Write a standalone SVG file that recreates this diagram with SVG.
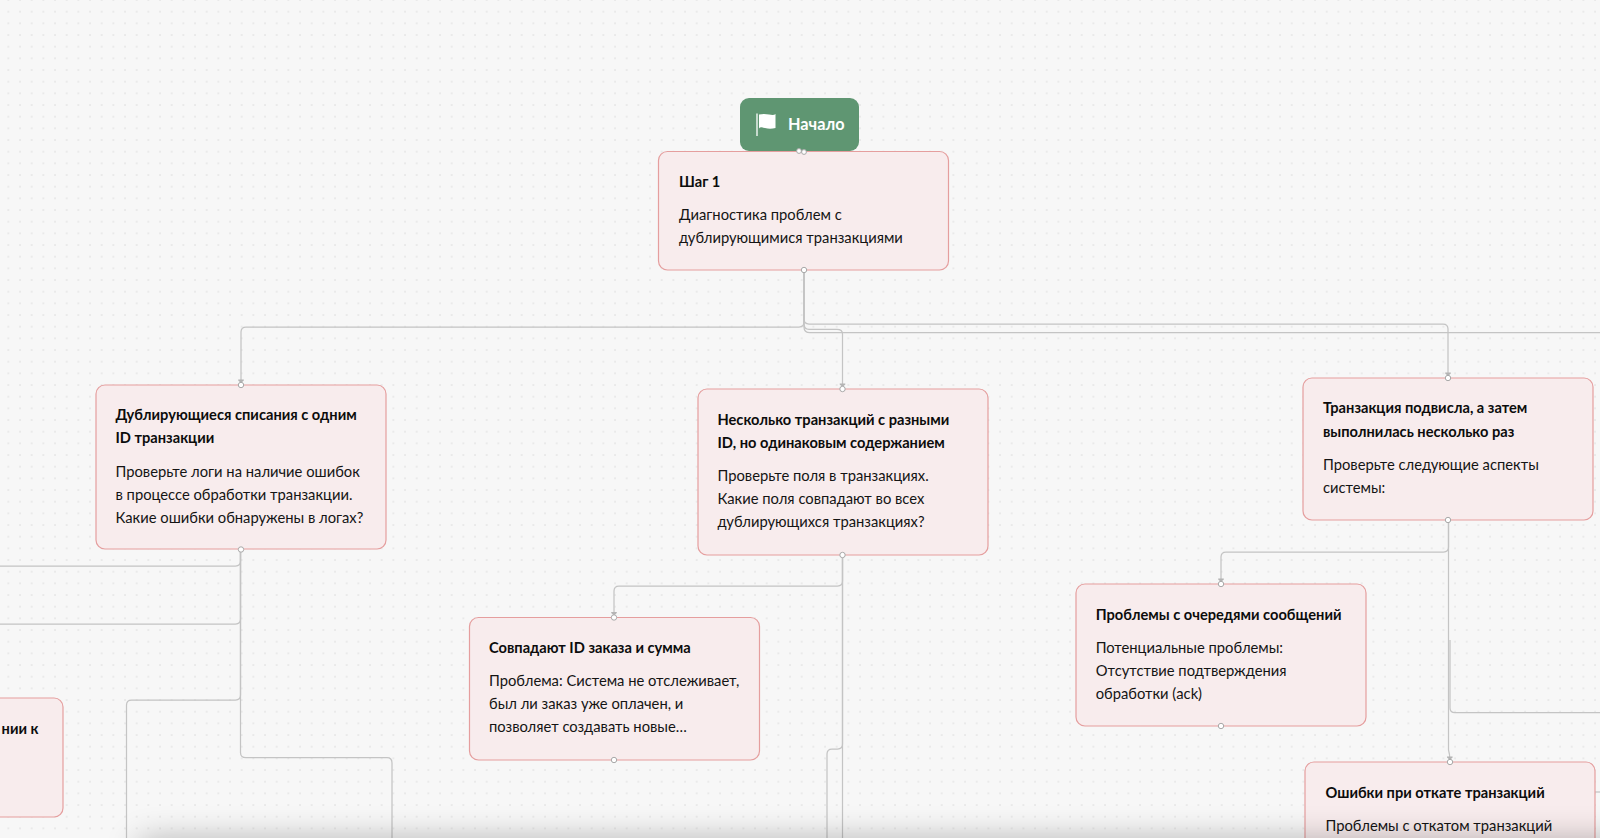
<svg xmlns="http://www.w3.org/2000/svg" width="1600" height="838" viewBox="0 0 1600 838">
<style>
.n{fill:#f8eced;stroke:#e59e9e;stroke-width:1.2}
.t{font-family:Lato,"Noto Sans",sans-serif;font-size:14.65px;font-weight:700;fill:#0c0c0c}
.b{font-family:Lato,"Noto Sans",sans-serif;font-size:14.75px;fill:#141414}
.c{fill:none;stroke:#c4c4c4;stroke-width:1.25}
.d{fill:#fff;stroke:#a9a9a9;stroke-width:1}
</style>
<defs>
<pattern id="g" x="2.5" y="5.83" width="11.667" height="11.667" patternUnits="userSpaceOnUse"><rect x="5.3" y="5.3" width="1.1" height="1.1" fill="#cccccc"/></pattern>
<filter id="s" x="-10%" y="-400%" width="120%" height="900%"><feGaussianBlur stdDeviation="17"/></filter>
</defs>
<rect width="1600" height="838" fill="#f7f7f7"/>
<rect width="1600" height="838" fill="url(#g)"/>
<g id="connectors">
<path class="c" d="M804 270V322Q804 327 799 327H246Q241 327 241 332V382.500"/>
<path class="c" d="M804 270V319Q804 324 809 324H1443Q1448 324 1448 329V375.500"/>
<path class="c" d="M804 270V324Q804 329.300 809 329.300H837Q842.500 329.300 842.500 334V386.500"/>
<path class="c" d="M804 270V327Q804 332.700 810 332.700H1600"/>
<path class="c" d="M240.500 549V561Q240.500 566 235.500 566H0"/>
<path class="c" d="M240.500 549V619Q240.500 624 235.500 624H0"/>
<path class="c" d="M240.500 549V695Q240.500 700 235.500 700H131.500Q126.500 700 126.500 705V838"/>
<path class="c" d="M240.500 549V752.500Q240.500 757.700 246 757.700H387Q392 757.700 392 763V838"/>
<path class="c" d="M842.500 555V838"/>
<path class="c" d="M842.500 555V581Q842.500 586 837.500 586H619Q614 586 614 591V615"/>
<path class="c" d="M842.500 555V744Q842.500 749 837.500 749H832Q827 749 827 754V838"/>
<path class="c" d="M1448.500 520V547Q1448.500 552 1443.500 552H1226Q1221 552 1221 557V581.500"/>
<path class="c" d="M1448.500 520V750Q1449.800 754 1449.800 759.500"/>
<path class="c" d="M1450 640V708Q1450 712.700 1455 712.700H1600"/>
<path class="c" d="M1595 792H1600"/>
<g fill="#b4b4b4">
<path id="ah1" d="M238.200 379.500H243.800V380.500L241 383L238.200 380.500Z"/>
<path id="ah2" d="M1445.200 372.500H1450.800V373.500L1448 376L1445.200 373.500Z"/>
<path id="ah3" d="M839.700 383.500H845.300V384.500L842.500 387L839.700 384.500Z"/>
<path id="ah4" d="M611.200 612H616.800V613L614 615.500L611.200 613Z"/>
<path id="ah5" d="M1218.200 578.500H1223.800V579.500L1221 582L1218.200 579.500Z"/>
<path id="ah6" d="M1447 756.500H1452.600V757.500L1449.800 760L1447 757.500Z"/>
</g>
</g>
<g id="node-step1">
<rect class="n" x="658.500" y="151.500" width="290" height="118.500" rx="9"/>
<text class="t" x="679" y="186.700">Шаг 1</text>
<text class="b" x="679" y="219.700">Диагностика проблем с</text>
<text class="b" x="679" y="243">дублирующимися транзакциями</text>
<circle class="d" cx="804" cy="270" r="2.700"/>
</g>
<g id="node-start">
<rect x="740" y="98" width="119" height="53" rx="9" fill="#5f9672"/>
<path d="M757 113.500V136" fill="none" stroke="#fff" stroke-width="1.300"/>
<path d="M759 114.500Q764 113.500 769 114.500T775.500 114V128Q770 129.500 765 128T759 128.500Z" fill="#fff"/>
<text x="788" y="130" font-family="Lato,'Noto Sans',sans-serif" font-size="16.300" font-weight="700" fill="#fff">Начало</text>
<circle class="d" cx="804" cy="152" r="2.400"/>
<circle class="d" cx="799" cy="151" r="2.400"/>
</g>
<g id="node-left">
<rect class="n" x="96" y="385" width="290" height="164" rx="9"/>
<text class="t" x="115.500" y="420">Дублирующиеся списания с одним</text>
<text class="t" x="115.500" y="443">ID транзакции</text>
<text class="b" x="115.500" y="476.500">Проверьте логи на наличие ошибок</text>
<text class="b" x="115.500" y="499.500">в процессе обработки транзакции.</text>
<text class="b" x="115.500" y="522.500">Какие ошибки обнаружены в логах?</text>
<circle class="d" cx="241" cy="385" r="2.700"/>
<circle class="d" cx="241" cy="549.500" r="2.700"/>
</g>
<g id="node-middle">
<rect class="n" x="698" y="389" width="290" height="166" rx="9"/>
<text class="t" x="717.500" y="424.700">Несколько транзакций с разными</text>
<text class="t" x="717.500" y="447.500">ID, но одинаковым содержанием</text>
<text class="b" x="717.500" y="480.500">Проверьте поля в транзакциях.</text>
<text class="b" x="717.500" y="503.500">Какие поля совпадают во всех</text>
<text class="b" x="717.500" y="526.500">дублирующихся транзакциях?</text>
<circle class="d" cx="842.500" cy="389" r="2.700"/>
<circle class="d" cx="842.500" cy="555" r="2.700"/>
</g>
<g id="node-right">
<rect class="n" x="1303" y="378" width="290" height="142" rx="9"/>
<text class="t" x="1323" y="413">Транзакция подвисла, а затем</text>
<text class="t" x="1323" y="436.500">выполнилась несколько раз</text>
<text class="b" x="1323" y="469.500">Проверьте следующие аспекты</text>
<text class="b" x="1323" y="492.500">системы:</text>
<circle class="d" cx="1448" cy="378" r="2.700"/>
<circle class="d" cx="1448" cy="520" r="2.700"/>
</g>
<g id="node-queue">
<rect class="n" x="1076" y="584" width="290" height="142" rx="9"/>
<text class="t" x="1095.700" y="619.700">Проблемы с очередями сообщений</text>
<text class="b" x="1095.700" y="652.700">Потенциальные проблемы:</text>
<text class="b" x="1095.700" y="676">Отсутствие подтверждения</text>
<text class="b" x="1095.700" y="699.300">обработки (ack)</text>
<circle class="d" cx="1221" cy="584" r="2.700"/>
<circle class="d" cx="1221" cy="726" r="2.700"/>
</g>
<g id="node-match">
<rect class="n" x="469.500" y="617.500" width="290" height="142.500" rx="9"/>
<text class="t" x="489" y="653">Совпадают ID заказа и сумма</text>
<text class="b" x="489" y="686">Проблема: Система не отслеживает,</text>
<text class="b" x="489" y="709">был ли заказ уже оплачен, и</text>
<text class="b" x="489" y="732">позволяет создавать новые…</text>
<circle class="d" cx="614" cy="617.500" r="2.700"/>
<circle class="d" cx="614" cy="760" r="2.700"/>
</g>
<g id="node-rollback">
<rect class="n" x="1305" y="762" width="290" height="120" rx="9"/>
<text class="t" x="1325.500" y="798">Ошибки при откате транзакций</text>
<text class="b" x="1325.500" y="830.500">Проблемы с откатом транзакций</text>
<circle class="d" cx="1450" cy="762" r="2.700"/>
</g>
<g id="node-cut">
<rect class="n" x="-200" y="698" width="263" height="119" rx="9"/>
<text class="t" x="38.500" y="733.500" text-anchor="end">нии к</text>
</g>
<rect id="shade" x="140" y="842" width="1600" height="30" fill="#000" opacity=".33" filter="url(#s)"/>
</svg>
